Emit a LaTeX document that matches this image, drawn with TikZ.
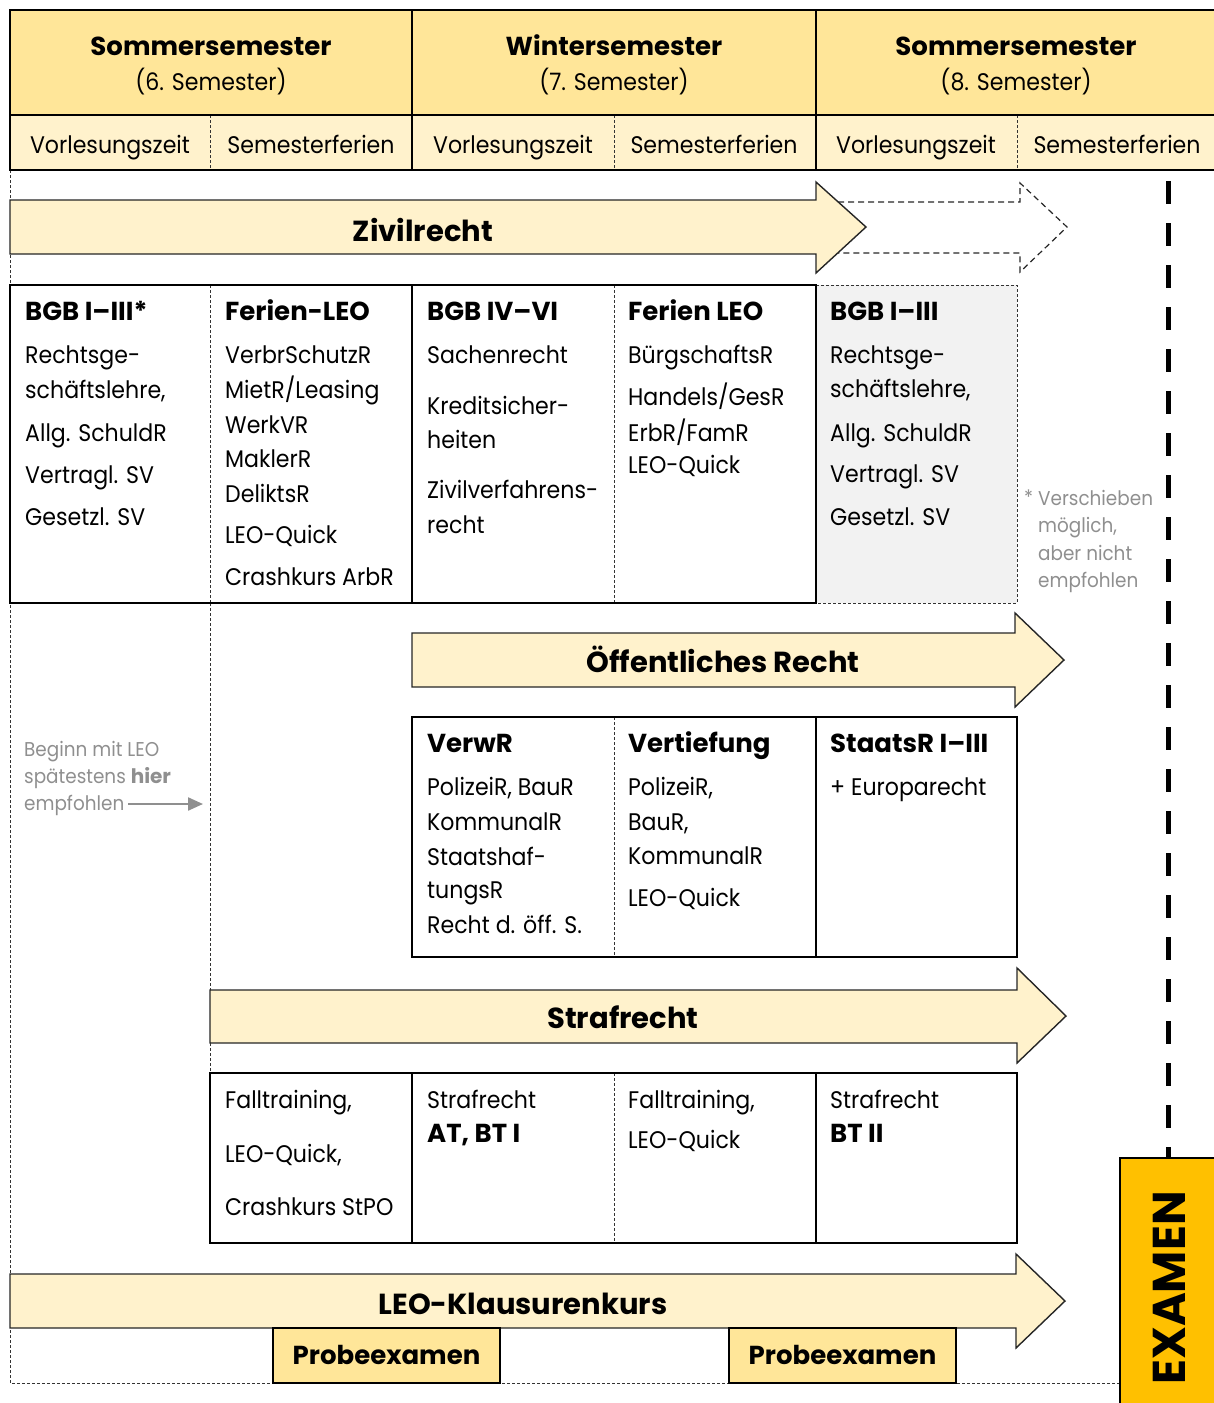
\documentclass[tikz,border=0pt]{standalone}
\usepackage{fontspec}
\setmainfont{Poppins}[UprightFeatures={FakeStretch=0.92},BoldFeatures={FakeStretch=1.0}]
\usetikzlibrary{arrows.meta}
\definecolor{hdrA}{HTML}{FFE699}
\definecolor{hdrB}{HTML}{FFF2CC}
\definecolor{arrfill}{HTML}{FFF2CC}
\definecolor{probe}{HTML}{FFE699}
\definecolor{examen}{HTML}{FFC000}
\definecolor{greybox}{HTML}{F2F2F2}
\definecolor{notegrey}{HTML}{8F8F8F}
\begin{document}
\begin{tikzpicture}[x=1pt,y=-1pt,
  thickln/.style={line width=2.4pt},
  thindash/.style={line width=0.9pt, dash pattern=on 3pt off 2pt, draw=black!80},
  extdash/.style={line width=1.2pt, dash pattern=on 6pt off 4pt, draw=black!85},
  bigarrow/.style={fill=arrfill, draw=black!85, line width=1.4pt, line join=miter},
  txt/.style={anchor=base west, inner sep=0pt, font=\fontsize{24}{28}\selectfont},
  hd/.style={anchor=base west, inner sep=0pt, font=\fontsize{26}{30}\selectfont\bfseries},
  ctxt/.style={anchor=base, inner sep=0pt, font=\fontsize{24}{28}\selectfont},
  chd/.style={anchor=base, inner sep=0pt, font=\fontsize{26}{30}\selectfont\bfseries},
  albl/.style={anchor=base, inner sep=0pt, font=\fontsize{29}{32}\selectfont\bfseries},
  note/.style={anchor=base west, inner sep=0pt, text=notegrey, font=\fontsize{20}{24}\selectfont}]
\useasboundingbox (0,0) rectangle (1214,1403);
\clip (0,0) rectangle (1214,1403);

% outer dashed frame
\draw[thindash] (10,170) -- (10,1383) -- (1120,1383);
\draw[thindash] (210,603) -- (210,1073);

% header
\fill[hdrA] (10,10) rectangle (1230,115);
\fill[hdrB] (10,115) rectangle (1230,170);
\draw[thindash] (210,115) -- (210,170) (614,115) -- (614,170) (1017,115) -- (1017,170);
\draw[thickln] (1230,10) -- (10,10) -- (10,170) -- (1230,170) (10,115) -- (1230,115)
  (412,10) -- (412,170) (816,10) -- (816,170);
\node[chd] (h1) at (211,55) {Sommersemester};
\node[ctxt] (h1b) at (211,90) {(6. Semester)};
\node[chd] (h2) at (614,55) {Wintersemester};
\node[ctxt] (h2b) at (614,90) {(7. Semester)};
\node[chd] (h3) at (1016,55) {Sommersemester};
\node[ctxt] (h3b) at (1016,90) {(8. Semester)};
\node[ctxt] (p1) at (110,153) {Vorlesungszeit};
\node[ctxt] (p2) at (311,153) {Semesterferien};
\node[ctxt] (p3) at (513,153) {Vorlesungszeit};
\node[ctxt] (p4) at (714,153) {Semesterferien};
\node[ctxt] (p5) at (916,153) {Vorlesungszeit};
\node[ctxt] (p6) at (1117,153) {Semesterferien};

% examen dashed line
\draw[line width=5pt, dash pattern=on 23pt off 19pt] (1168,181) -- (1168,1160);

% Zivilrecht arrow
\draw[bigarrow] (10,200) -- (816,200) -- (816,182) -- (866,227) -- (816,273) -- (816,254) -- (10,254) -- cycle;
\draw[extdash, line join=miter] (838,202) -- (1020,202) -- (1020,183) -- (1067,227) -- (1020,272) -- (1020,253) -- (838,253);
\node[albl] (zr) at (423,241) {Zivilrecht};

% Zivilrecht boxes
\draw[thindash, fill=greybox] (816,285) rectangle (1017,603);
\draw[thindash] (210,285) -- (210,603) (614,285) -- (614,603);
\draw[thickln] (10,285) rectangle (816,603) (412,285) -- (412,603);

\node[hd] (z1h) at (25,320) {BGB I–III*};
\node[txt] (z1a) at (25,363) {Rechtsge-};
\node[txt] (z1b) at (25,398) {schäftslehre,};
\node[txt] (z1c) at (25,441) {Allg. SchuldR};
\node[txt] (z1d) at (25,483) {Vertragl. SV};
\node[txt] (z1e) at (25,525) {Gesetzl. SV};

\node[hd] (z2h) at (225,320) {Ferien-LEO};
\node[txt] (z2a) at (225,363) {VerbrSchutzR};
\node[txt] (z2b) at (225,398) {MietR/Leasing};
\node[txt] (z2c) at (225,433) {WerkVR};
\node[txt] (z2d) at (225,467) {MaklerR};
\node[txt] (z2e) at (225,502) {DeliktsR};
\node[txt] (z2f) at (225,543) {LEO-Quick};
\node[txt] (z2g) at (225,585) {Crashkurs ArbR};

\node[hd] (z3h) at (427,320) {BGB IV–VI};
\node[txt] (z3a) at (427,363) {Sachenrecht};
\node[txt] (z3b) at (427,414) {Kreditsicher-};
\node[txt] (z3c) at (427,448) {heiten};
\node[txt] (z3d) at (427,498) {Zivilverfahrens-};
\node[txt] (z3e) at (427,533) {recht};

\node[hd] (z4h) at (628,320) {Ferien LEO};
\node[txt] (z4a) at (628,363) {BürgschaftsR};
\node[txt] (z4b) at (628,405) {Handels/GesR};
\node[txt] (z4c) at (628,441) {ErbR/FamR};
\node[txt] (z4d) at (628,473) {LEO-Quick};

\node[hd] (z5h) at (830,320) {BGB I–III};
\node[txt] (z5a) at (830,363) {Rechtsge-};
\node[txt] (z5b) at (830,397) {schäftslehre,};
\node[txt] (z5c) at (830,441) {Allg. SchuldR};
\node[txt] (z5d) at (830,482) {Vertragl. SV};
\node[txt] (z5e) at (830,525) {Gesetzl. SV};

\node[note] (n0) at (1024,504) {*};
\node[note] (n1) at (1038,505) {Verschieben};
\node[note] (n2) at (1038,532) {möglich,};
\node[note] (n3) at (1038,560) {aber nicht};
\node[note] (n4) at (1038,587) {empfohlen};

% Beginn mit LEO note
\node[note] (b1) at (24,756) {Beginn mit LEO};
\node[note] (b2) at (24,783) {spätestens \textbf{hier}};
\node[note] (b3) at (24,810) {empfohlen};
\coordinate (bstart) at (128,804);
\coordinate (bend) at (203,804);
\draw[notegrey, line width=2.2pt, -{Triangle[length=15pt,width=13pt]}] (bstart) -- (bend);

% Oeffentliches Recht arrow
\draw[bigarrow] (412,633) -- (1015,633) -- (1015,613) -- (1064,660) -- (1015,707) -- (1015,687) -- (412,687) -- cycle;
\node[albl] (oer) at (723,672) {Öffentliches Recht};

\draw[thindash] (614,717) -- (614,957);
\draw[thickln] (412,717) rectangle (1017,957) (816,717) -- (816,957);
\node[hd] (o1h) at (427,752) {VerwR};
\node[txt] (o1a) at (427,795) {PolizeiR, BauR};
\node[txt] (o1b) at (427,830) {KommunalR};
\node[txt] (o1c) at (427,865) {Staatshaf-};
\node[txt] (o1d) at (427,898) {tungsR};
\node[txt] (o1e) at (427,933) {Recht d. öff. S.};
\node[hd] (o2h) at (628,752) {Vertiefung};
\node[txt] (o2a) at (628,795) {PolizeiR,};
\node[txt] (o2b) at (628,830) {BauR,};
\node[txt] (o2c) at (628,864) {KommunalR};
\node[txt] (o2d) at (628,906) {LEO-Quick};
\node[hd] (o3h) at (830,752) {StaatsR I–III};
\node[txt] (o3a) at (830,795) {+ Europarecht};

% Strafrecht arrow
\draw[bigarrow] (210,990) -- (1017,990) -- (1017,968) -- (1066,1016) -- (1017,1063) -- (1017,1043) -- (210,1043) -- cycle;
\node[albl] (sr) at (623,1028) {Strafrecht};

\draw[thindash] (614,1073) -- (614,1243);
\draw[thickln] (210,1073) rectangle (1017,1243) (412,1073) -- (412,1243) (816,1073) -- (816,1243);
\node[txt] (s1a) at (225,1108) {Falltraining,};
\node[txt] (s1b) at (225,1162) {LEO-Quick,};
\node[txt] (s1c) at (225,1215) {Crashkurs StPO};
\node[txt] (s2a) at (427,1108) {Strafrecht};
\node[hd] (s2b) at (427,1142) {AT, BT I};
\node[txt] (s3a) at (628,1108) {Falltraining,};
\node[txt] (s3b) at (628,1148) {LEO-Quick};
\node[txt] (s4a) at (830,1108) {Strafrecht};
\node[hd] (s4b) at (830,1142) {BT II};

% LEO-Klausurenkurs arrow
\draw[bigarrow] (10,1274) -- (1016,1274) -- (1016,1254) -- (1065,1301) -- (1016,1348) -- (1016,1328) -- (10,1328) -- cycle;
\node[albl] (lk) at (523,1314) {LEO-Klausurenkurs};

\node[draw, thickln, fill=probe, minimum width=227pt, minimum height=55pt, inner sep=0pt] (pe1) at (386.5,1355.5) {};
\node[chd] (pe1t) at (386.5,1364) {Probeexamen};
\node[draw, thickln, fill=probe, minimum width=227pt, minimum height=55pt, inner sep=0pt] (pe2) at (842.5,1355.5) {};
\node[chd] (pe2t) at (842.5,1364) {Probeexamen};

% Examen box
\draw[line width=2pt, fill=examen] (1120,1158) rectangle (1240,1420);
\node[rotate=90, inner sep=0pt, font=\fontsize{46}{50}\selectfont\bfseries] (ex) at (1169,1288) {EXAMEN};
\end{tikzpicture}
\end{document}
